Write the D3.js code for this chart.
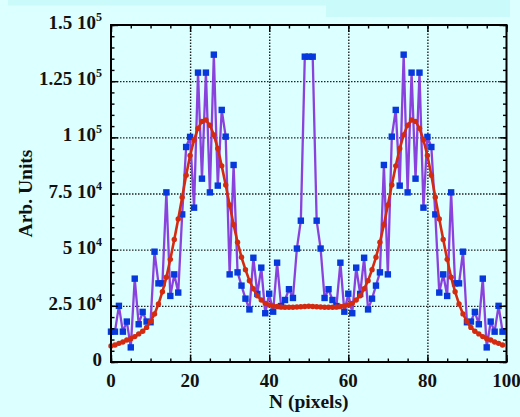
<!DOCTYPE html>
<html>
<head>
<meta charset="utf-8">
<script src="https://cdn.jsdelivr.net/npm/d3@7"></script>
<style>
  html, body { margin: 0; padding: 0; background: #dcffff; }
  svg { display: block; }
  text { font-family: "Liberation Serif", "Times New Roman", serif; font-weight: bold; fill: #111; }
</style>
</head>
<body>
<svg id="chart" width="520" height="417"></svg>
<script>
// Pixel index along the detector
const pixels = d3.range(0, 100);

// Measured intensity for pixels 0..50 (the profile is mirror symmetric about pixel 50)
const measuredHalf = [
  13500, 13500, 25000, 13500, 18000, 6500, 37100, 16800, 22300, 18000,
  17700, 49100, 35000, 35000, 75500, 29400, 39000, 30900, 65700, 95700,
  100200, 68700, 128800, 81600, 128800, 75500, 136800, 78500, 112200, 100300,
  39000, 87700, 39900, 34000, 28200, 23400, 46400, 30300, 42000, 21700,
  30400, 22400, 44200, 24900, 27600, 32400, 28500, 50500, 62900, 135900,
  135900
];

// Fitted profile for pixels 0..50
const fittedHalf = [
  7100, 7600, 8300, 8900, 9800, 10400, 11300, 12500, 13700, 15400,
  18000, 21400, 25800, 31300, 37700, 45700, 54500, 63700, 73300, 83100,
  91900, 98800, 104000, 107100, 107700, 105400, 101100, 95000, 87300, 78800,
  69900, 61100, 53300, 46600, 41100, 36200, 32600, 29500, 27600, 26100,
  25400, 24900, 24700, 24500, 24400, 24400, 24400, 24500, 24600, 24700,
  24800
];

const mirror = half => pixels.map(n => half[n <= 50 ? n : 100 - n]);
const measured = mirror(measuredHalf);
const fitted = mirror(fittedHalf);

// Axis ticks and labels
const xTicks = [0, 20, 40, 60, 80, 100];
const xTickLabels = ["0", "20", "40", "60", "80", "100"];
const yTicks = [0, 25000, 50000, 75000, 100000, 125000, 150000];
const yTickMantissa = ["0", "2.5", "5", "7.5", "1", "1.25", "1.5"];
const yTickExponent = ["", "4", "4", "4", "5", "5", "5"];
const xMinor = d3.range(0, 101, 5);
const yMinor = d3.range(0, 150001, 5000);

const svg = d3.select("#chart");
const plotLeft = 111, plotRight = 506.5, plotTop = 25, plotBottom = 362;

// Header strips
svg.append("rect").attr("x", 8).attr("y", 0).attr("width", 494).attr("height", 5.5).attr("fill", "#cbfafa");
svg.append("rect").attr("x", 326).attr("y", 0).attr("width", 184).attr("height", 17).attr("fill", "#cbfafa");

const x = d3.scaleLinear().domain([0, 100]).range([plotLeft, plotRight]);
const y = d3.scaleLinear().domain([0, 150000]).range([plotBottom, plotTop]);

// Dotted grid at the interior major ticks
const grid = svg.append("g");
grid.append("g")
  .attr("transform", `translate(0,${plotBottom})`)
  .call(d3.axisBottom(x).tickValues(xTicks.slice(1, -1)).tickSize(-(plotBottom - plotTop)).tickFormat(""))
  .call(g => g.select(".domain").remove())
  .selectAll("line").attr("stroke", "#222").attr("stroke-width", 1.4).attr("stroke-dasharray", "1.5,1.5");
grid.append("g")
  .attr("transform", `translate(${plotLeft},0)`)
  .call(d3.axisLeft(y).tickValues(yTicks.slice(1, -1)).tickSize(-(plotRight - plotLeft)).tickFormat(""))
  .call(g => g.select(".domain").remove())
  .selectAll("line").attr("stroke", "#222").attr("stroke-width", 1.4).attr("stroke-dasharray", "1.5,1.5");

// Measured data: purple line with blue squares
svg.append("path")
  .datum(pixels)
  .attr("fill", "none")
  .attr("stroke", "#8a42dc")
  .attr("stroke-width", 2.3)
  .attr("stroke-linejoin", "round")
  .attr("d", d3.line().x(n => x(n)).y(n => y(measured[n])));

svg.append("g").selectAll("rect")
  .data(pixels)
  .join("rect")
  .attr("x", n => x(n) - 3.2)
  .attr("y", n => y(measured[n]) - 3.2)
  .attr("width", 6.4)
  .attr("height", 6.4)
  .attr("fill", "#0638dc");

// Fitted profile: red line with dots
svg.append("path")
  .datum(pixels)
  .attr("fill", "none")
  .attr("stroke", "#d42a10")
  .attr("stroke-width", 2.6)
  .attr("stroke-linejoin", "round")
  .attr("d", d3.line().x(n => x(n)).y(n => y(fitted[n])));

svg.append("g").selectAll("circle")
  .data(pixels)
  .join("circle")
  .attr("cx", n => x(n))
  .attr("cy", n => y(fitted[n]))
  .attr("r", 2.7)
  .attr("fill", "#d42a10");

// Inward ticks on all four sides
function ticks(axisGen, transform, values, size) {
  svg.append("g")
    .attr("transform", transform)
    .call(axisGen.tickValues(values).tickSize(size).tickFormat(""))
    .call(g => g.select(".domain").remove())
    .selectAll("line").attr("stroke", "#000").attr("stroke-width", 1.4);
}
ticks(d3.axisBottom(x), `translate(0,${plotBottom})`, xMinor, -3.5);
ticks(d3.axisTop(x), `translate(0,${plotTop})`, xMinor, -3.5);
ticks(d3.axisLeft(y), `translate(${plotLeft},0)`, yMinor, -3.5);
ticks(d3.axisRight(y), `translate(${plotRight},0)`, yMinor, -3.5);
ticks(d3.axisBottom(x), `translate(0,${plotBottom})`, xTicks, -7);
ticks(d3.axisTop(x), `translate(0,${plotTop})`, xTicks, -7);
ticks(d3.axisLeft(y), `translate(${plotLeft},0)`, yTicks, -7);
ticks(d3.axisRight(y), `translate(${plotRight},0)`, yTicks, -7);

// Frame
svg.append("rect")
  .attr("x", plotLeft).attr("y", plotTop)
  .attr("width", plotRight - plotLeft).attr("height", plotBottom - plotTop)
  .attr("fill", "none").attr("stroke", "#000").attr("stroke-width", 2);

// X tick labels
svg.append("g").selectAll("text")
  .data(xTicks)
  .join("text")
  .attr("x", d => x(d))
  .attr("y", 387)
  .attr("text-anchor", "middle")
  .attr("font-size", 19)
  .text((d, i) => xTickLabels[i]);

// Y tick labels with power-of-ten exponents
const yl = svg.append("g").selectAll("text")
  .data(yTicks)
  .join("text")
  .attr("x", 102)
  .attr("y", d => y(d) + 4)
  .attr("text-anchor", "end")
  .attr("font-size", 19);
yl.append("tspan").text((d, i) => yTickMantissa[i] + (yTickExponent[i] ? " 10" : ""));
yl.filter((d, i) => yTickExponent[i] !== "")
  .append("tspan")
  .attr("dy", -8)
  .attr("font-size", 12)
  .text(d => yTickExponent[yTicks.indexOf(d)]);

// Axis titles
svg.append("text")
  .attr("x", (plotLeft + plotRight) / 2)
  .attr("y", 408)
  .attr("text-anchor", "middle")
  .attr("font-size", 19.5)
  .text("N (pixels)");

svg.append("text")
  .attr("transform", `translate(32,${(plotTop + plotBottom) / 2}) rotate(-90)`)
  .attr("text-anchor", "middle")
  .attr("font-size", 19.5)
  .text("Arb. Units");
</script>
</body>
</html>
